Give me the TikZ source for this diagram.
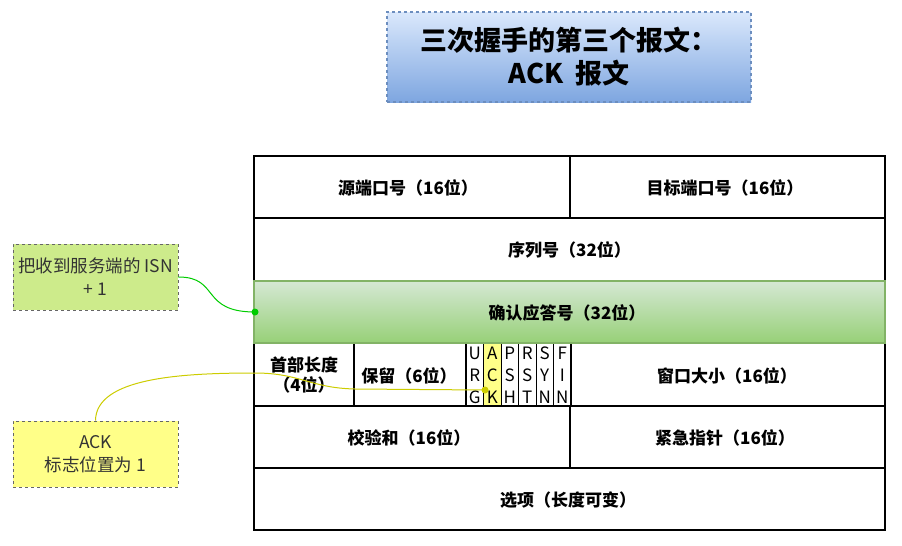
\documentclass[tikz,border=0pt]{standalone}
\usepackage{fontspec}
\setmainfont{Noto Sans CJK SC}
\definecolor{titletop}{HTML}{DAE8FC}
\definecolor{titlebot}{HTML}{7EA6E0}
\definecolor{titledraw}{HTML}{6C8EBF}
\definecolor{greentop}{HTML}{D5E8D4}
\definecolor{greenbot}{HTML}{97D077}
\definecolor{greendraw}{HTML}{82B366}
\definecolor{notegreen}{HTML}{CDEB8B}
\definecolor{noteyellow}{HTML}{FFFF88}
\definecolor{notedraw}{HTML}{666666}
\definecolor{notetext}{HTML}{333333}
\definecolor{gline}{HTML}{00CC00}
\definecolor{yline}{HTML}{CCCC00}
\begin{document}
\begin{tikzpicture}[x=1pt,y=-1pt,
  cell/.style={draw=black,line width=1.3pt},
  celltext/.style={font=\bfseries\fontsize{17}{20}\selectfont,align=center,inner sep=0pt},
  flagtext/.style={font=\fontsize{17}{22}\selectfont,align=center,inner sep=0pt},
  titlebox/.style={draw=titledraw,dashed,line width=1.2pt,top color=titletop,bottom color=titlebot,
    minimum width=364pt,minimum height=90pt,align=center,inner sep=0pt,
    font=\bfseries\fontsize{27}{33}\selectfont},
  notebox/.style={draw=notedraw,dashed,line width=0.9pt,minimum width=165pt,minimum height=66pt,
    align=center,inner sep=0pt,text=notetext,font=\fontsize{17.5}{23}\selectfont},
  conn/.style={line width=1pt},
  dotstyle/.style={circle,inner sep=0pt,minimum size=7pt}
]
\useasboundingbox (0,0) rectangle (902,546);

% title
\node[titlebox] (title) at (569,57) {三次握手的第三个报文：\\ACK\ \ 报文};

% table rows
\path[top color=greentop,bottom color=greenbot] (254,281) rectangle (885,343);
\fill[noteyellow] (483.5,343) rectangle (501,406);

\draw[cell] (254,156) rectangle (570,218);
\draw[cell] (570,156) rectangle (885,218);
\draw[cell] (254,218) rectangle (885,281);
\draw[cell] (254,343) rectangle (354,406);
\draw[cell] (354,343) rectangle (466,406);
\foreach \i in {0,...,5}{
  \draw[cell,line width=1pt] ({466+\i*17.5},343) rectangle ({483.5+\i*17.5},406);
}
\draw[cell] (571,343) rectangle (885,406);
\draw[cell] (254,406) rectangle (570,468);
\draw[cell] (570,406) rectangle (885,468);
\draw[cell] (254,468) rectangle (885,530);
\draw[draw=greendraw,line width=1.3pt] (254,281) rectangle (885,343);

\node[celltext] (srcport) at (408,188) {源端口号（16位）};
\node[celltext] (dstport) at (725,188) {目标端口号（16位）};
\node[celltext] (seq) at (569.5,250) {序列号（32位）};
\node[celltext] (ackn) at (567,313) {确认应答号（32位）};
\node[celltext] (hlen) at (304,375) {首部长度\\（4位）};
\node[celltext] (resv) at (409,375.5) {保留（6位）};
\node[flagtext] (furg) at (474.75,375) {U\\R\\G};
\node[flagtext] (fack) at (492.25,375) {A\\C\\K};
\node[flagtext] (fpsh) at (509.75,375) {P\\S\\H};
\node[flagtext] (frst) at (527.25,375) {R\\S\\T};
\node[flagtext] (fsyn) at (544.75,375) {S\\Y\\N};
\node[flagtext] (ffin) at (562.25,375) {F\\I\\N};
\node[celltext] (win) at (727,376) {窗口大小（16位）};
\node[celltext] (chk) at (409,438) {校验和（16位）};
\node[celltext] (urg) at (725,438) {紧急指针（16位）};
\node[celltext] (opt) at (568,500) {选项（长度可变）};

% notes
\node[notebox,fill=notegreen] (isnbox) at (95.5,277) {把收到服务端的 ISN\\+ 1};
\node[notebox,fill=noteyellow] (ackbox) at (95.5,454) {ACK\\标志位置为 1};

% connector dots
\node[dotstyle,fill=gline] (gdot) at (255,312) {};
\node[dotstyle,fill=yline] (ydot) at (485,390) {};

% connectors
\draw[conn,gline] (isnbox.east) .. controls (220,277) and (200,312) .. (gdot.center);
\draw[conn,yline] (ackbox.north) .. controls (96,378) and (180,373) .. (255,373)
   .. controls (300,373) and (310,388) .. (355,389) -- (ydot.center);
\end{tikzpicture}
\end{document}
